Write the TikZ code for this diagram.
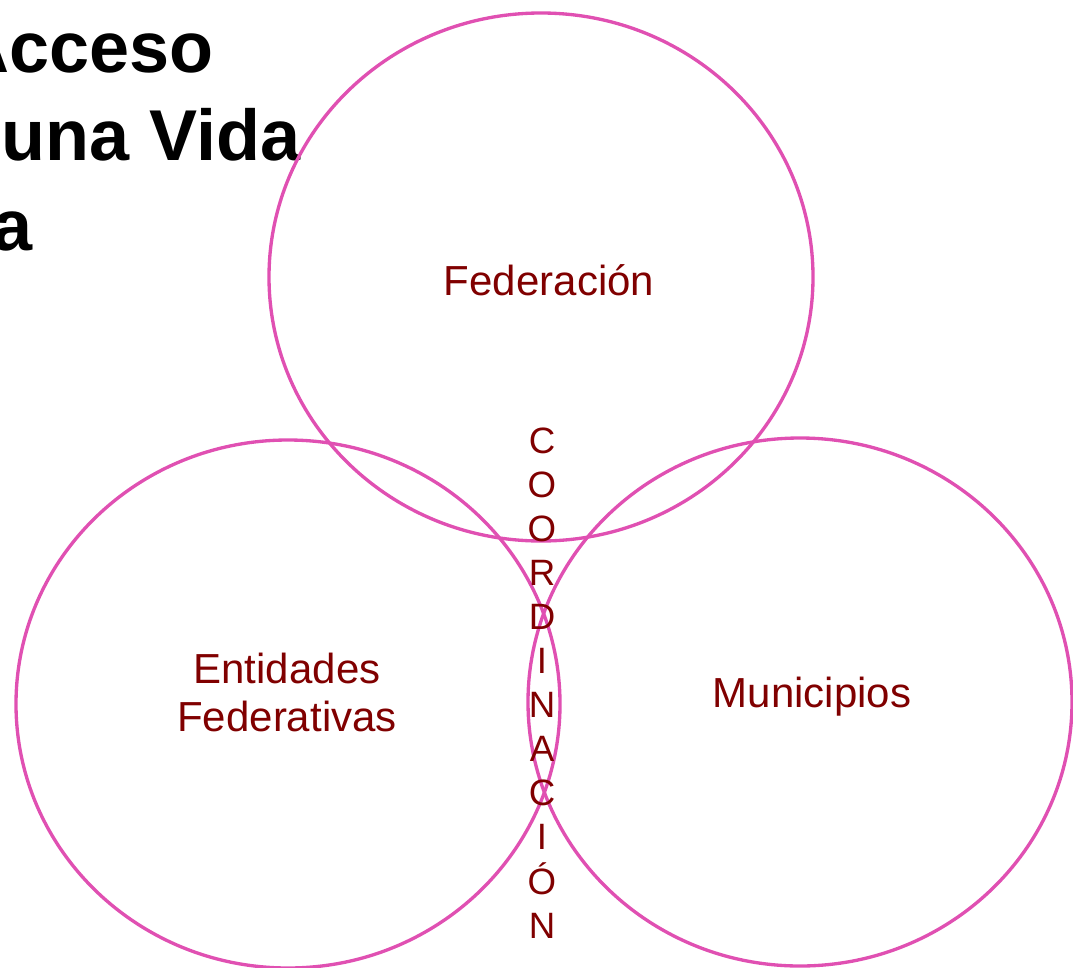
\documentclass[tikz,border=0pt]{standalone}
\usepackage{fontspec}
\setmainfont{Liberation Sans}
\usepackage{tikz}
\usetikzlibrary{shapes.geometric}
\definecolor{ringpink}{RGB}{224,80,178}
\definecolor{labelred}{RGB}{128,0,0}

\begin{document}
\begin{tikzpicture}[x=0.75pt,y=-0.75pt]
\tikzstyle{ring}=[ellipse,draw=ringpink,line width=2.5pt,minimum width=408pt,minimum height=396pt,inner sep=0pt]
\tikzstyle{level}=[text=labelred,font=\fontsize{31.5}{36}\selectfont,inner sep=0pt]
\tikzstyle{letter}=[text=labelred,font=\fontsize{27.5}{30}\selectfont,anchor=base,inner sep=0pt]
\tikzstyle{heading}=[font=\bfseries\fontsize{54}{64}\selectfont,anchor=base east,inner sep=0pt]
\useasboundingbox (0,0) rectangle (1073,967);
\clip (0,0) rectangle (1073,967);
\node[heading] (T_1) at (214,72) {Acceso};
\node[heading] (T_2) at (301,160) {una Vida};
\node[heading] (T_3) at (33,250) {a};
\node[ring] (C_fed) at (541,277) {};
\node[ring] (C_ent) at (288,704) {};
\node[ring] (C_mun) at (800,702) {};
\node[level,anchor=base] (L_fed) at (549,295) {Federación};
\node[level,align=center] (L_ent) at (287,692) {Entidades\\Federativas};
\node[level,anchor=base] (L_mun) at (812,707) {Municipios};
\foreach \ch [count=\i from 0] in {C,O,O,R,D,I,N,A,C,I,Ó,N}
  \node[letter] (V_\i) at (542,453+44.1*\i) {\ch};
\end{tikzpicture}
\end{document}
